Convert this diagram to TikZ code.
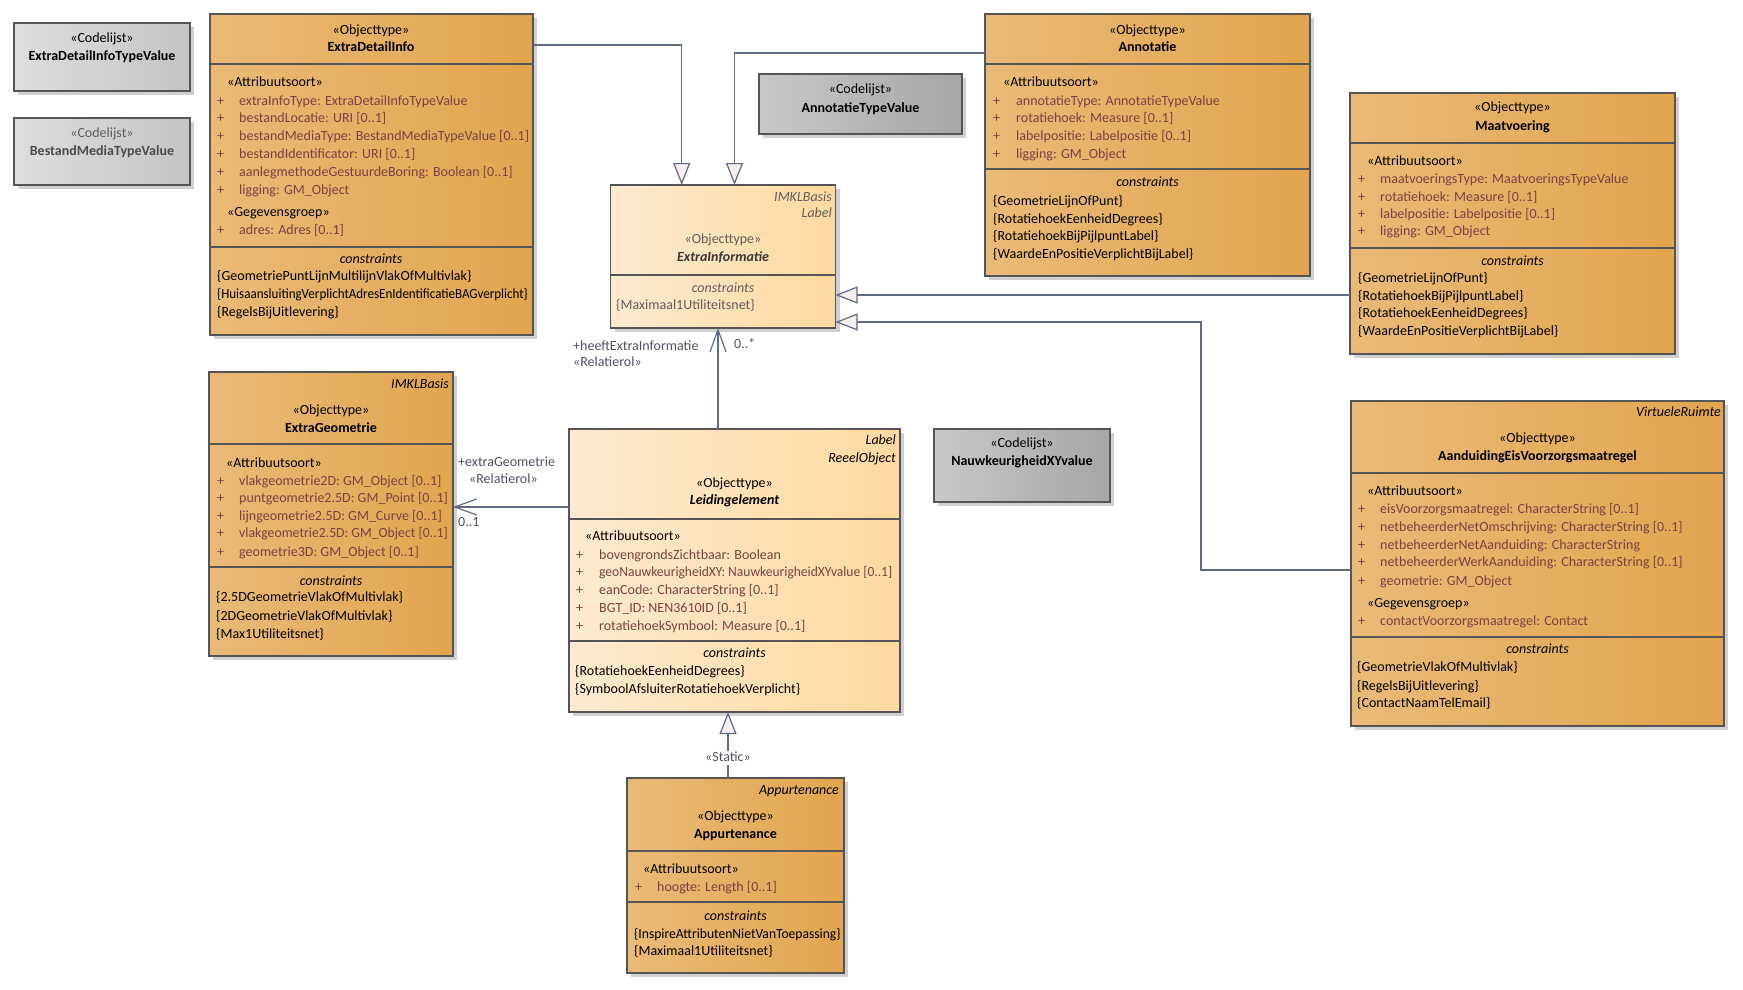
\documentclass[tikz,border=0pt]{standalone}
\usepackage{fontspec}
\setmainfont{Carlito}
\usetikzlibrary{arrows.meta}
\definecolor{objL}{HTML}{E9BA77}
\definecolor{objR}{HTML}{E2A54F}
\definecolor{lightL}{HTML}{FDEAD0}
\definecolor{lightR}{HTML}{FFD9A0}
\definecolor{clL}{HTML}{DEDEDE}
\definecolor{clR}{HTML}{C4C4C4}
\definecolor{cdL}{HTML}{C8C8C8}
\definecolor{cdR}{HTML}{A6A6A6}
\definecolor{border}{HTML}{555555}
\definecolor{conn}{HTML}{5F6A85}
\definecolor{attrc}{HTML}{7A4242}
\definecolor{shadowc}{HTML}{D0D0D0}
\definecolor{genfill}{HTML}{F7EFEC}
\definecolor{lblc}{HTML}{4F5066}
\definecolor{graytxt}{HTML}{5E5E5E}
\newcounter{tx}
\newcommand\T[4][]{\stepcounter{tx}\node[txt,#1] (tx\thetx) at (#2,#3) {#4};}
\newcommand\A[4]{\T[attr]{#1}{#3}{+}\T[attr]{#2}{#3}{#4}}
\newcommand\umlbox[6]{%
  \fill[shadowc] (#2+4,#3+4) rectangle (#4+4,#5+4);
  \node[#6, anchor=north west, minimum width={(#4-#2)*1bp}, minimum height={(#5-#3)*1bp}] (#1) at (#2,#3) {};}
\newcommand\sepl[2]{\draw[sepline] (#1.west |- 0,#2) -- (#1.east |- 0,#2);}
\begin{document}
\begin{tikzpicture}[x=1bp,y=-1bp,
  box/.style={draw=border, line width=1.4bp, inner sep=0pt, outer sep=0pt},
  obj/.style={box, left color=objL, right color=objR},
  lt/.style={box, left color=lightL, right color=lightR},
  cl/.style={box, left color=clL, right color=clR},
  cd/.style={box, left color=cdL, right color=cdR},
  sepline/.style={draw=border, line width=1.2bp},
  txt/.style={inner sep=0pt, font=\fontsize{14bp}{16bp}\selectfont, text height=9bp, text depth=3bp},
  attr/.style={text=attrc, anchor=west},
  cons/.style={anchor=west},
  nm/.style={font=\fontsize{14bp}{16bp}\selectfont\bfseries},
  it/.style={font=\fontsize{14bp}{16bp}\selectfont\itshape},
  rt/.style={anchor=east, font=\fontsize{14bp}{16bp}\selectfont\itshape},
  lbl/.style={text=lblc, anchor=west},
  gen/.style={draw=conn, line width=1.2bp, -{Triangle[length=22bp,width=17bp,fill=genfill]}},
  assoc/.style={draw=conn, line width=1.2bp, -{Straight Barb[length=22bp,width=16bp]}}
]
\useasboundingbox (0,0) rectangle (1743,989);

% ---------- Codelijst boxes
\umlbox{cla}{14}{23}{190}{91}{cl}
\T{102}{39}{«Codelijst»}
\T[nm]{102}{57}{ExtraDetailInfoTypeValue}

\umlbox{clb}{14}{118}{190}{185}{cl}
\T[text=graytxt]{102}{134}{«Codelijst»}
\T[nm,text=graytxt!80!black]{102}{152}{BestandMediaTypeValue}

\umlbox{clc}{759}{74}{962}{134}{cd}
\T{860.5}{90}{«Codelijst»}
\T[nm]{860.5}{109}{AnnotatieTypeValue}

\umlbox{cld}{934}{429}{1110}{502}{cd}
\T{1022}{444}{«Codelijst»}
\T[nm]{1022}{462}{NauwkeurigheidXYvalue}

% ---------- ExtraDetailInfo
\umlbox{edi}{210}{14}{533}{335}{obj}
\sepl{edi}{64}\sepl{edi}{247}
\T{371}{31}{«Objecttype»}
\T[nm]{371}{48}{ExtraDetailInfo}
\T[anchor=west]{227}{83}{«Attribuutsoort»}
\foreach \y/\s in {102/{extraInfoType: ExtraDetailInfoTypeValue},119/{bestandLocatie: URI [0..1]},137/{bestandMediaType: BestandMediaTypeValue [0..1]},155/{bestandIdentificator: URI [0..1]},173/{aanlegmethodeGestuurdeBoring: Boolean [0..1]},191/{ligging: GM\_Object}}{\A{217}{239}{\y}{\s}}
\T[anchor=west]{227}{213}{«Gegevensgroep»}
\A{217}{239}{231}{adres: Adres [0..1]}
\T[it]{371}{260}{constraints}
\T[cons]{217}{277}{\{GeometriePuntLijnMultilijnVlakOfMultivlak\}}
\T[cons]{217}{295}{\scalebox{0.93}[1]{\{HuisaansluitingVerplichtAdresEnIdentificatieBAGverplicht\}}}
\T[cons]{217}{313}{\{RegelsBijUitlevering\}}

% ---------- Annotatie
\umlbox{ann}{985}{14}{1310}{276}{obj}
\sepl{ann}{64}\sepl{ann}{169}
\T{1147.5}{31}{«Objecttype»}
\T[nm]{1147.5}{48}{Annotatie}
\T[anchor=west]{1003}{83}{«Attribuutsoort»}
\foreach \y/\s in {102/{annotatieType: AnnotatieTypeValue},119/{rotatiehoek: Measure [0..1]},137/{labelpositie: Labelpositie [0..1]},155/{ligging: GM\_Object}}{\A{993}{1016}{\y}{\s}}
\T[it]{1147.5}{183}{constraints}
\T[cons]{993}{202}{\{GeometrieLijnOfPunt\}}
\T[cons]{993}{220}{\{RotatiehoekEenheidDegrees\}}
\T[cons]{993}{237}{\{RotatiehoekBijPijlpuntLabel\}}
\T[cons]{993}{255}{\{WaardeEnPositieVerplichtBijLabel\}}

% ---------- ExtraInformatie
\umlbox{ei}{610.5}{185}{835.5}{328}{lt}
\sepl{ei}{275}
\T[rt,text=graytxt]{832}{198}{IMKLBasis}
\T[rt,text=graytxt]{832}{214}{Label}
\T[text=graytxt]{723}{240}{«Objecttype»}
\T[font=\fontsize{14bp}{16bp}\selectfont\bfseries\itshape,text=graytxt!60!black]{723}{258}{ExtraInformatie}
\T[it,text=graytxt]{723}{289}{constraints}
\T[cons,text=graytxt]{616}{306}{\{Maximaal1Utiliteitsnet\}}

% ---------- Maatvoering
\umlbox{maat}{1350}{93}{1675}{354}{obj}
\sepl{maat}{143}\sepl{maat}{248}
\T{1512.5}{108}{«Objecttype»}
\T[nm]{1512.5}{127}{Maatvoering}
\T[anchor=west]{1367}{162}{«Attribuutsoort»}
\foreach \y/\s in {180/{maatvoeringsType: MaatvoeringsTypeValue},198/{rotatiehoek: Measure [0..1]},215/{labelpositie: Labelpositie [0..1]},232/{ligging: GM\_Object}}{\A{1358}{1380}{\y}{\s}}
\T[it]{1512.5}{262}{constraints}
\T[cons]{1358}{279}{\{GeometrieLijnOfPunt\}}
\T[cons]{1358}{297}{\{RotatiehoekBijPijlpuntLabel\}}
\T[cons]{1358}{314}{\{RotatiehoekEenheidDegrees\}}
\T[cons]{1358}{332}{\{WaardeEnPositieVerplichtBijLabel\}}

% ---------- ExtraGeometrie
\umlbox{eg}{209}{372}{453}{656}{obj}
\sepl{eg}{444}\sepl{eg}{567}
\T[rt]{449}{385}{IMKLBasis}
\T{331}{411}{«Objecttype»}
\T[nm]{331}{429}{ExtraGeometrie}
\T[anchor=west]{226}{464}{«Attribuutsoort»}
\foreach \y/\s in {482/{vlakgeometrie2D: GM\_Object [0..1]},499/{puntgeometrie2.5D: GM\_Point [0..1]},517/{lijngeometrie2.5D: GM\_Curve [0..1]},534/{\scalebox{0.98}[1]{vlakgeometrie2.5D: GM\_Object [0..1]}},553/{geometrie3D: GM\_Object [0..1]}}{\A{217}{239}{\y}{\s}}
\T[it]{331}{582}{constraints}
\T[cons]{216}{598}{\{2.5DGeometrieVlakOfMultivlak\}}
\T[cons]{216}{617}{\{2DGeometrieVlakOfMultivlak\}}
\T[cons]{216}{635}{\{Max1Utiliteitsnet\}}

% ---------- Leidingelement
\umlbox{le}{569}{429}{900}{712}{lt}
\sepl{le}{519}\sepl{le}{641}
\T[rt]{896}{441}{Label}
\T[rt]{896}{459}{ReeelObject}
\T{734.5}{484}{«Objecttype»}
\T[font=\fontsize{14bp}{16bp}\selectfont\bfseries\itshape]{734.5}{501}{Leidingelement}
\T[anchor=west]{585}{537}{«Attribuutsoort»}
\foreach \y/\s in {556/{bovengrondsZichtbaar: Boolean},573/{\scalebox{0.965}[1]{geoNauwkeurigheidXY: NauwkeurigheidXYvalue [0..1]}},591/{eanCode: CharacterString [0..1]},609/{BGT\_ID: NEN3610ID [0..1]},627/{rotatiehoekSymbool: Measure [0..1]}}{\A{576}{599}{\y}{\s}}
\T[it]{734.5}{654}{constraints}
\T[cons]{575}{672}{\{RotatiehoekEenheidDegrees\}}
\T[cons]{575}{690}{\{SymboolAfsluiterRotatiehoekVerplicht\}}

% ---------- AanduidingEisVoorzorgsmaatregel
\umlbox{aei}{1351}{401}{1724}{726}{obj}
\sepl{aei}{473}\sepl{aei}{637}
\T[rt]{1721}{413}{VirtueleRuimte}
\T{1537.5}{439}{«Objecttype»}
\T[nm]{1537.5}{457}{AanduidingEisVoorzorgsmaatregel}
\T[anchor=west]{1367}{492}{«Attribuutsoort»}
\foreach \y/\s in {510/{eisVoorzorgsmaatregel: CharacterString [0..1]},528/{netbeheerderNetOmschrijving: CharacterString [0..1]},546/{netbeheerderNetAanduiding: CharacterString},563/{netbeheerderWerkAanduiding: CharacterString [0..1]},582/{geometrie: GM\_Object}}{\A{1358}{1380}{\y}{\s}}
\T[anchor=west]{1367}{604}{«Gegevensgroep»}
\A{1358}{1380}{622}{contactVoorzorgsmaatregel: Contact}
\T[it]{1537.5}{650}{constraints}
\T[cons]{1357}{668}{\{GeometrieVlakOfMultivlak\}}
\T[cons]{1357}{687}{\{RegelsBijUitlevering\}}
\T[cons]{1357}{704}{\{ContactNaamTelEmail\}}

% ---------- Appurtenance
\umlbox{app}{627}{778}{844}{973}{obj}
\sepl{app}{851}\sepl{app}{902}
\T[rt]{839}{791}{Appurtenance}
\T{735.5}{817}{«Objecttype»}
\T[nm]{735.5}{835}{Appurtenance}
\T[anchor=west]{643}{870}{«Attribuutsoort»}
\A{635}{657}{888}{hoogte: Length [0..1]}
\T[it]{735.5}{917}{constraints}
\T[cons]{634}{935}{\scalebox{0.97}[1]{\{InspireAttributenNietVanToepassing\}}}
\T[cons]{634}{952}{\{Maximaal1Utiliteitsnet\}}

% ---------- connectors
\draw[gen] (edi.east |- 0,45) -| (ei.north -| 681.7,0);
\draw[gen] (ann.west |- 0,53) -| (ei.north -| 734.5,0);
\draw[gen] (maat.west |- 0,295) -- (ei.east |- 0,295);
\draw[gen] (aei.west |- 0,570) -| (1201,322) -- (ei.east |- 0,322);
\draw[assoc] (le.north -| 718,0) -- (ei.south -| 718,0);
\draw[assoc] (le.west |- 0,507) -- (eg.east |- 0,507);
\draw[gen] (app.north -| 728,0) -- (le.south -| 728,0);
\node[txt, fill=white, text=lblc, inner sep=1bp] (static) at (728,758) {«Static»};

\T[lbl]{573}{347}{+heeftExtraInformatie}
\T[lbl]{573}{363}{«Relatierol»}
\T[lbl]{734}{345}{0..*}
\T[lbl]{458}{463}{+extraGeometrie}
\T[lbl]{469}{480}{«Relatierol»}
\T[lbl]{458}{523}{0..1}
\end{tikzpicture}
\end{document}
